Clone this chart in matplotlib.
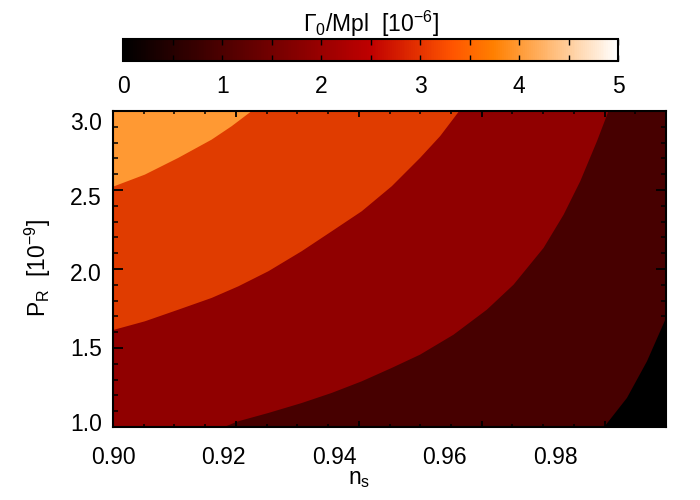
import matplotlib
matplotlib.use('Agg')
import matplotlib.pyplot as plt
import numpy as np
from matplotlib.cm import ScalarMappable
from matplotlib.colors import Normalize

plt.rcParams['font.family'] = ['Liberation Sans', 'DejaVu Sans']
plt.rcParams['mathtext.fontset'] = 'custom'
plt.rcParams['mathtext.rm'] = 'Liberation Sans'
plt.rcParams['mathtext.it'] = 'Liberation Sans:italic'
plt.rcParams['mathtext.bf'] = 'Liberation Sans:bold'

# axis ranges and tick labels
XMIN, XMAX = 0.9, 1.0
YMIN, YMAX = 0.970, 3.066
xtick_vals = [0.90, 0.92, 0.94, 0.96, 0.98]
ytick_vals = [1.0, 1.5, 2.0, 2.5, 3.0]
cbar_ticks = [0, 1, 2, 3, 4, 5]

# contour boundaries (n_s, P_R)
# Gamma = 4 level (light orange / orange-red)
b1_x = [0.8990, 0.90576, 0.91180, 0.91783, 0.92145, 0.92560]
b1_y = [2.550, 2.644, 2.755, 2.876, 2.965, 3.080]
# Gamma = 3 level (orange-red / red)
b2_x = [0.8990, 0.90576, 0.91180, 0.91783, 0.92266, 0.92809, 0.93412,
        0.93955, 0.94498, 0.95041, 0.95553, 0.95915, 0.96290]
b2_y = [1.603, 1.671, 1.748, 1.826, 1.903, 2.003, 2.136,
        2.268, 2.401, 2.567, 2.755, 2.899, 3.080]
# Gamma = 2 level (red / dark red)
b3_x = [0.91940, 0.92266, 0.92809, 0.93412, 0.93955, 0.94498, 0.95041,
        0.95553, 0.96157, 0.96760, 0.97243, 0.97786, 0.98148, 0.98449,
        0.98751, 0.98975]
b3_y = [0.960, 1.008, 1.063, 1.129, 1.196, 1.273, 1.362,
        1.450, 1.582, 1.748, 1.914, 2.158, 2.378, 2.600,
        2.865, 3.080]
# Gamma = 1 level (dark red / black)
b4_x = [0.98860, 0.99294, 0.99656, 0.99987, 1.0010]
b4_y = [0.960, 1.163, 1.406, 1.682, 1.710]

FS = 16.5

fig = plt.figure(figsize=(7, 5), dpi=100)
rect = [113 / 700, 73 / 500, 553 / 700, 316 / 500]
ax = fig.add_axes(rect)
ax.set_xlim(XMIN, XMAX)
ax.set_ylim(YMIN, YMAX)
ax.set_facecolor('#470000')

ax.fill(b4_x + [XMAX + 0.01], b4_y + [YMIN - 0.1], color='#000000', lw=0)
ax.fill(b3_x + [XMIN - 0.01, XMIN - 0.01], b3_y + [YMAX + 0.1, YMIN - 0.1],
        color='#900000', lw=0)
ax.fill(b2_x + [XMIN - 0.01], b2_y + [YMAX + 0.1], color='#e03c00', lw=0)
ax.fill(b1_x + [XMIN - 0.01], b1_y + [YMAX + 0.1], color='#ff9933', lw=0)

ax.set_xticks(xtick_vals, ['%.2f' % v for v in xtick_vals])
ax.set_yticks(ytick_vals, ['%.1f' % v for v in ytick_vals])
ax.tick_params(axis='x', length=0, labelsize=FS, pad=14)
ax.tick_params(axis='y', length=0, labelsize=FS, pad=8)
for s in ax.spines.values():
    s.set_visible(False)
ax.set_xlabel(r'n$_\mathrm{s}$', fontsize=FS)
ax.xaxis.set_label_coords(0.445, -0.125)
ax.set_ylabel(r'P$_\mathrm{R}$  [10$^{-9}$]', fontsize=FS)
ax.yaxis.set_label_coords(-0.108, 0.503)

# tick marks drawn on their own frame, as in the original
ov = fig.add_axes(rect)
ov.patch.set_alpha(0)
ov.set_xlim(0, 4.5)
ov.set_ylim(0, 4)
ov.set_xticks(range(5))
ov.set_xticks(np.arange(0, 4.51, 0.25), minor=True)
ov.set_yticks(range(5))
ov.set_yticks(np.arange(0, 4.01, 0.2), minor=True)
ov.tick_params(axis='x', which='major', direction='in', length=4.5, width=1.3,
               top=True, bottom=True, labelbottom=False)
ov.tick_params(axis='x', which='minor', direction='in', length=2.3, width=1.1,
               top=True, bottom=True)
ov.tick_params(axis='y', which='major', direction='in', length=7.5, width=1.3,
               left=True, right=True, labelleft=False)
ov.tick_params(axis='y', which='minor', direction='in', length=3.8, width=1.1,
               left=True, right=True)
for s in ov.spines.values():
    s.set_linewidth(1.5)

cax = fig.add_axes([123.3 / 700, (500 - 60.7) / 500, 494.7 / 700, 21.4 / 500])
cb = fig.colorbar(ScalarMappable(Normalize(0, 5), 'gist_heat'), cax=cax,
                  orientation='horizontal')
half = np.arange(0, 5.01, 0.5)
cb.set_ticks(half, labels=[('%d' % v if v in cbar_ticks else '') for v in half])
cax.tick_params(which='both', direction='in', top=True, bottom=True,
                length=4, width=1, labelsize=FS, pad=10)
cb.outline.set_linewidth(1.5)
cax.set_title(r'$\Gamma_0$/Mpl  [10$^{-6}$]', fontsize=FS, pad=5)

fig.savefig('out.png', dpi=100)
